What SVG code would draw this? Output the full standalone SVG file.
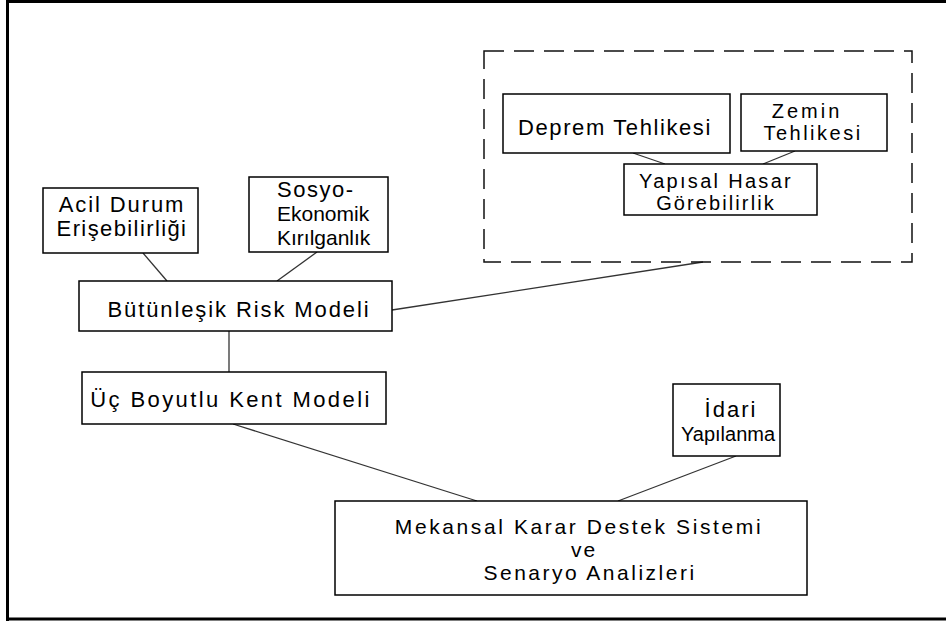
<svg xmlns="http://www.w3.org/2000/svg" width="946" height="622" viewBox="0 0 946 622">
<style>
.box{fill:#fff;stroke:#000;stroke-width:1.5}
.dash{fill:none;stroke:#111;stroke-width:1.5;stroke-dasharray:20 10}
.t{font-family:"Liberation Sans",Arial,sans-serif;font-size:22px;fill:#000;letter-spacing:1.8px;text-anchor:middle}
.s{font-size:20px}
.m{font-size:21px}
.tl{text-anchor:start}
#connectors line{stroke:#333;stroke-width:1.3}
</style>
<rect width="946" height="622" fill="#fff"/>
<path d="M7.5,621 V1.5 H946 M6,619 H946" fill="none" stroke="#000" stroke-width="3"/>
<g id="connectors">
<line x1="633" y1="153" x2="665" y2="164"/>
<line x1="795" y1="151" x2="763" y2="164"/>
<line x1="143" y1="253" x2="167" y2="281"/>
<line x1="317" y1="252" x2="277" y2="281"/>
<line x1="392" y1="310" x2="703" y2="262"/>
<line x1="229" y1="331" x2="229" y2="372"/>
<line x1="233" y1="424" x2="477" y2="501"/>
<line x1="736" y1="456" x2="618" y2="501"/>
</g>
<g id="group-structural"><rect class="dash" x="484" y="51" width="428" height="211"/></g>
<g id="deprem"><rect class="box" x="503" y="94" width="227" height="59"/><text class="t" x="615" y="135" style="letter-spacing:1.6px">Deprem Tehlikesi</text></g>
<g id="zemin"><rect class="box" x="741" y="94" width="146" height="57"/><text class="t s" x="807" y="118" style="letter-spacing:3px">Zemin</text><text class="t s" x="813" y="140" style="letter-spacing:2.5px">Tehlikesi</text></g>
<g id="yapisal"><rect class="box" x="624" y="164" width="193" height="51"/><text class="t s" x="716" y="188" style="letter-spacing:2.3px">Yapısal Hasar</text><text class="t s" x="716" y="210" style="letter-spacing:2.1px">Görebilirlik</text></g>
<g id="acil"><rect class="box" x="43" y="188" width="155" height="65"/><text class="t" x="122" y="212" style="letter-spacing:1.9px">Acil Durum</text><text class="t" x="122" y="236" style="letter-spacing:1.4px">Erişebilirliği</text></g>
<g id="sosyo"><rect class="box" x="249" y="177" width="139" height="75"/><text class="t tl" x="277" y="197" style="letter-spacing:1.5px">Sosyo-</text><text class="t tl m" x="277" y="221" style="letter-spacing:0">Ekonomik</text><text class="t tl m" x="277" y="245" style="letter-spacing:0">Kırılganlık</text></g>
<g id="butunlesik"><rect class="box" x="79" y="281" width="313" height="50"/><text class="t" x="239" y="317" style="letter-spacing:1.9px">Bütünleşik Risk Modeli</text></g>
<g id="uc"><rect class="box" x="82" y="372" width="304" height="52"/><text class="t" x="231" y="407" style="letter-spacing:2.4px">Üç Boyutlu Kent Modeli</text></g>
<g id="idari"><rect class="box" x="673" y="384" width="107" height="72"/><text class="t" x="731" y="417" style="letter-spacing:2px">İdari</text><text class="t s" x="728" y="441" style="letter-spacing:0">Yapılanma</text></g>
<g id="mekansal"><rect class="box" x="335" y="501" width="472" height="94"/><text class="t m" x="579" y="534" style="letter-spacing:2.6px">Mekansal Karar Destek Sistemi</text><text class="t m" x="584" y="557">ve</text><text class="t m" x="590" y="580" style="letter-spacing:2.5px">Senaryo Analizleri</text></g>
</svg>
